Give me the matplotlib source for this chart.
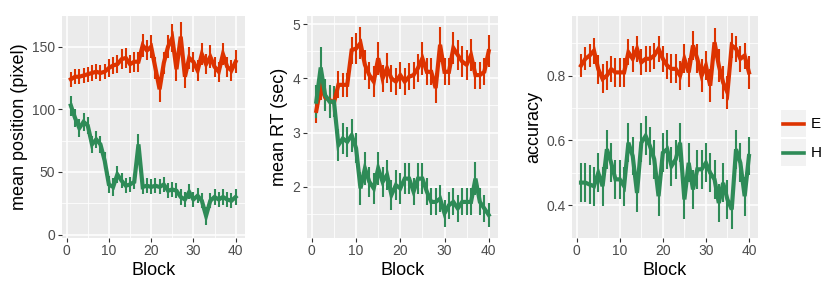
import matplotlib
matplotlib.use("Agg")
import matplotlib.pyplot as plt
from matplotlib.patches import Rectangle
from matplotlib.lines import Line2D

plt.rcParams['font.family'] = ['Liberation Sans', 'DejaVu Sans']

# ---------------- data ----------------
blocks = list(range(1, 41))
groups = ["E", "H"]
group_colors = ["#DD3300", "#2E8B57"]

pos_E = [124, 126, 126, 127, 128, 129, 130, 129, 130, 133,
         135, 136, 140, 141, 136, 138, 138, 151, 147, 150,
         133, 116, 137, 150, 157, 132, 158, 126, 141, 138,
         131, 144, 136, 142, 134, 130, 144, 134, 131, 138]
pos_E_err = [6, 6, 6, 6, 6, 6, 6, 6, 6, 7,
             7, 7, 8, 8, 7, 8, 8, 9, 8, 9,
             9, 10, 9, 9, 11, 9, 12, 9, 9, 8,
             8, 9, 8, 9, 8, 8, 9, 8, 8, 9]
pos_H = [103, 93, 85, 90, 87, 72, 76, 72, 59, 40,
         38, 48, 43, 39, 40, 42, 72, 38, 39, 38,
         39, 38, 40, 35, 36, 35, 30, 28, 34, 28,
         31, 27, 15, 27, 30, 28, 30, 28, 27, 30]
pos_H_err = [8, 7, 7, 7, 7, 7, 7, 7, 7, 7,
             7, 7, 6, 6, 6, 6, 8, 6, 6, 6,
             6, 6, 6, 6, 6, 6, 6, 6, 6, 6,
             6, 6, 7, 6, 6, 6, 6, 6, 6, 6]

rt_E = [3.40, 3.85, 3.65, 3.60, 3.55, 3.88, 3.88, 3.88, 4.52, 4.55,
        4.65, 4.25, 4.06, 3.94, 4.37, 4.00, 4.19, 4.00, 3.94, 4.06,
        3.94, 4.03, 4.06, 4.19, 4.37, 4.12, 4.12, 3.82, 4.62, 4.12,
        4.12, 4.56, 4.43, 4.31, 4.25, 4.43, 4.06, 4.06, 4.12, 4.50]
rt_E_err = [0.22, 0.25, 0.22, 0.22, 0.25, 0.25, 0.22, 0.22, 0.25, 0.28,
            0.30, 0.28, 0.25, 0.28, 0.30, 0.25, 0.28, 0.25, 0.25, 0.25,
            0.25, 0.25, 0.25, 0.25, 0.30, 0.25, 0.25, 0.28, 0.32, 0.25,
            0.25, 0.30, 0.28, 0.28, 0.28, 0.30, 0.25, 0.25, 0.25, 0.30]
rt_H = [3.57, 4.20, 3.69, 3.57, 3.57, 2.77, 2.89, 2.83, 2.95, 2.71,
        1.97, 2.34, 2.09, 1.97, 2.34, 2.09, 2.22, 1.85, 2.03, 1.97,
        2.15, 2.15, 1.91, 2.15, 2.15, 1.91, 1.72, 1.72, 1.78, 1.51,
        1.66, 1.72, 1.60, 1.72, 1.72, 1.72, 2.15, 1.72, 1.60, 1.48]
rt_H_err = [0.30, 0.38, 0.30, 0.30, 0.28, 0.30, 0.28, 0.28, 0.30, 0.28,
            0.30, 0.30, 0.28, 0.28, 0.30, 0.28, 0.28, 0.28, 0.28, 0.28,
            0.28, 0.28, 0.25, 0.28, 0.28, 0.25, 0.25, 0.25, 0.25, 0.25,
            0.25, 0.25, 0.25, 0.25, 0.25, 0.25, 0.30, 0.25, 0.25, 0.22]

acc_E = [0.831, 0.852, 0.862, 0.877, 0.820, 0.790, 0.800, 0.820, 0.810, 0.810,
         0.810, 0.872, 0.852, 0.883, 0.841, 0.852, 0.852, 0.862, 0.883, 0.852,
         0.831, 0.821, 0.821, 0.800, 0.852, 0.810, 0.893, 0.852, 0.800, 0.831,
         0.769, 0.903, 0.831, 0.779, 0.748, 0.893, 0.883, 0.852, 0.862, 0.810]
acc_E_err = [0.035, 0.035, 0.035, 0.040, 0.045, 0.045, 0.045, 0.040, 0.045, 0.045,
             0.045, 0.040, 0.040, 0.040, 0.040, 0.040, 0.040, 0.040, 0.040, 0.040,
             0.040, 0.045, 0.045, 0.045, 0.045, 0.045, 0.045, 0.045, 0.050, 0.045,
             0.050, 0.045, 0.050, 0.050, 0.050, 0.040, 0.040, 0.040, 0.040, 0.050]
acc_H = [0.470, 0.470, 0.464, 0.459, 0.500, 0.459, 0.573, 0.531, 0.480, 0.480,
         0.459, 0.593, 0.552, 0.438, 0.593, 0.614, 0.583, 0.542, 0.428, 0.562,
         0.573, 0.521, 0.542, 0.593, 0.418, 0.531, 0.449, 0.511, 0.511, 0.531,
         0.500, 0.480, 0.407, 0.469, 0.418, 0.387, 0.573, 0.531, 0.428, 0.552]
acc_H_err = [0.060, 0.060, 0.060, 0.060, 0.060, 0.060, 0.060, 0.060, 0.060, 0.060,
             0.060, 0.060, 0.060, 0.060, 0.060, 0.060, 0.060, 0.060, 0.060, 0.060,
             0.060, 0.060, 0.060, 0.060, 0.060, 0.060, 0.060, 0.060, 0.060, 0.060,
             0.060, 0.060, 0.060, 0.060, 0.060, 0.060, 0.060, 0.060, 0.060, 0.060]

panels = [
    dict(label="mean position (pixel)", series=[(pos_E, pos_E_err), (pos_H, pos_H_err)],
         ylim=(-2.5, 174.5), major=[0, 50, 100, 150], minor=[25, 75, 125],
         ticklabels=["0", "50", "100", "150"], box=(62, 16, 244.5, 237.7)),
    dict(label="mean RT (sec)", series=[(rt_E, rt_E_err), (rt_H, rt_H_err)],
         ylim=(1.06, 5.15), major=[2, 3, 4, 5], minor=[1.5, 2.5, 3.5, 4.5],
         ticklabels=["2", "3", "4", "5"], box=(307, 16, 498, 237.7)),
    dict(label="accuracy", series=[(acc_E, acc_E_err), (acc_H, acc_H_err)],
         ylim=(0.30, 0.984), major=[0.4, 0.6, 0.8], minor=[0.3, 0.5, 0.7, 0.9],
         ticklabels=["0.4", "0.6", "0.8"], box=(572, 16, 758, 237.7)),
]
xmajor = [0, 10, 20, 30, 40]
xminor = [5, 15, 25, 35]

# ---------------- figure ----------------
W, H = 830, 297
fig = plt.figure(figsize=(W / 100, H / 100), dpi=100)

for p in panels:
    l, t, r, b = p["box"]
    ax = fig.add_axes([l / W, 1 - b / H, (r - l) / W, (b - t) / H])
    ax.set_facecolor("#EBEBEB")
    for s in ax.spines.values():
        s.set_visible(False)
    ax.set_xlim(-1.1, 42.1)
    ax.set_ylim(*p["ylim"])
    ax.set_xticks(xmajor)
    ax.set_xticks(xminor, minor=True)
    ax.set_yticks(p["major"])
    ax.set_yticklabels(p["ticklabels"])
    ax.set_yticks(p["minor"], minor=True)
    ax.grid(which="major", color="white", linewidth=1.1)
    ax.grid(which="minor", color="white", linewidth=0.55)
    ax.set_axisbelow(True)
    ax.tick_params(which="major", length=2.75, width=0.8, color="#333333",
                   labelcolor="#4D4D4D", labelsize=10, pad=2)
    ax.tick_params(which="minor", length=0)
    ax.set_xlabel("Block", fontsize=13, labelpad=3)
    ax.set_ylabel(p["label"], fontsize=13, labelpad=3)
    for (vals, errs), col in zip(p["series"], group_colors):
        ax.errorbar(blocks, vals, yerr=errs, fmt="none", ecolor=col,
                    elinewidth=1.5, capsize=0, zorder=3)
        ax.plot(blocks, vals, color=col, linewidth=3.0, zorder=4,
                solid_joinstyle="miter")

# ---------------- legend ----------------
key_tops = [110, 139]
for g, col, kt in zip(groups, group_colors, key_tops):
    fig.add_artist(Rectangle((781 / W, 1 - (kt + 27) / H), 25 / W, 27 / H,
                             transform=fig.transFigure, facecolor="#F2F2F2",
                             edgecolor="none"))
    yc = 1 - (kt + 13.5) / H
    fig.add_artist(Line2D([783 / W, 804 / W], [yc, yc], transform=fig.transFigure,
                          color=col, linewidth=2.6))
    fig.text(811 / W, yc, g, fontsize=11, va="center", ha="left", color="black")

fig.savefig("out.png", dpi=100)
